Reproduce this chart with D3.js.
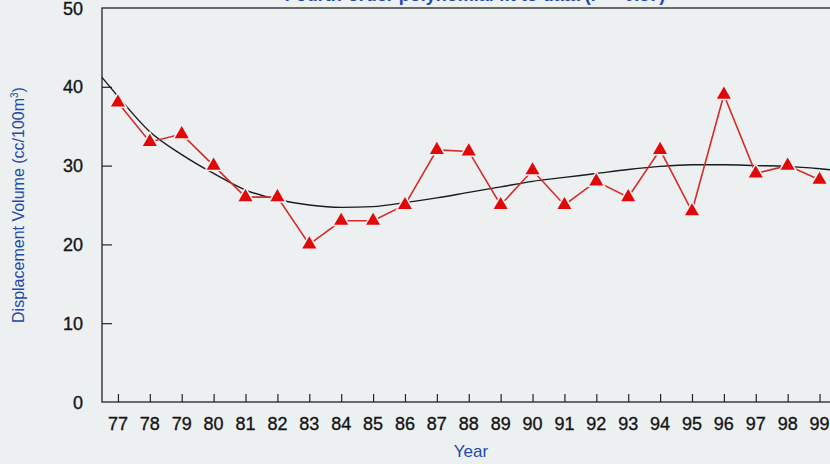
<!DOCTYPE html>
<html>
<head>
<meta charset="utf-8">
<script src="https://cdn.jsdelivr.net/npm/d3@7"></script>
<style>
  body { margin: 0; background: #edf0f1; }
  svg { display: block; }
</style>
</head>
<body>
<div id="chart"></div>
<script>
// observed displacement volume by year
var years = [ 77, 78, 79, 80, 81, 82, 83, 84, 85, 86, 87, 88, 89, 90, 91, 92, 93, 94, 95, 96, 97, 98, 99 ];
var volumes = [ 38, 33, 34, 30, 26, 26, 20, 23, 23, 25, 32, 31.8, 25, 29.4, 25, 28, 26, 32, 24.2, 39, 29, 30, 28.2 ];

// fourth-order fit
var fitYears = [ 76.5, 77, 78, 79, 80, 81, 82, 83, 84, 85, 86, 87, 88, 89, 90, 91, 92, 93, 94, 95, 96, 97, 98, 99, 99.5 ];
var fitValues = [ 41.2, 38.8, 34.3, 31.4, 29.0, 26.9, 25.7, 25.0, 24.7, 24.8, 25.3, 25.9, 26.6, 27.3, 28.0, 28.5, 29.0, 29.5, 29.9, 30.1, 30.1, 30.0, 29.9, 29.6, 29.4 ];

var yTicks = [ 0, 10, 20, 30, 40, 50 ];

var width = 830, height = 464;
var blue = "#2149a6";
var font = "Liberation Sans, Arial, sans-serif";

var svg = d3.select( "#chart" ).append( "svg" )
	.attr( "width", width )
	.attr( "height", height );

svg.append( "rect" )
	.attr( "width", width ).attr( "height", height )
	.attr( "fill", "#edf0f1" );

var xScale = d3.scaleLinear().domain( [ 76.5, 99.5 ] ).range( [ 102, 835.5 ] );
var yScale = d3.scaleLinear().domain( [ 0, 50 ] ).range( [ 402, 8 ] );

// frame
svg.append( "rect" )
	.attr( "x", xScale( 76.5 ) )
	.attr( "y", yScale( 50 ) )
	.attr( "width", xScale( 99.5 ) - xScale( 76.5 ) )
	.attr( "height", yScale( 0 ) - yScale( 50 ) )
	.attr( "fill", "none" )
	.attr( "stroke", "#222" )
	.attr( "stroke-width", 1.3 );

// x axis, ticks pointing inward
var xAxis = svg.append( "g" )
	.attr( "transform", `translate(0, ${ yScale( 0 ) })` )
	.call( d3.axisTop( xScale ).tickValues( years ).tickSize( 8 ).tickFormat( "" ) );
xAxis.select( ".domain" ).remove();
xAxis.selectAll( "line" ).attr( "stroke", "#222" ).attr( "stroke-width", 1.2 );

svg.append( "g" ).selectAll( "text" )
	.data( years )
	.enter()
	.append( "text" )
	.attr( "x", d => xScale( d ) )
	.attr( "y", 430 )
	.attr( "text-anchor", "middle" )
	.attr( "fill", "#151515" )
	.attr( "stroke", "#151515" )
	.attr( "stroke-width", 0.35 )
	.style( "font-family", font )
	.style( "font-size", "18px" )
	.text( d => d );

// y axis, ticks pointing inward
var yAxis = svg.append( "g" )
	.attr( "transform", `translate(${ xScale( 76.5 ) }, 0)` )
	.call( d3.axisRight( yScale ).tickValues( yTicks.slice( 1, -1 ) ).tickSize( 10 ).tickFormat( "" ) );
yAxis.select( ".domain" ).remove();
yAxis.selectAll( "line" ).attr( "stroke", "#222" ).attr( "stroke-width", 1.2 );

svg.append( "g" ).selectAll( "text" )
	.data( yTicks )
	.enter()
	.append( "text" )
	.attr( "x", 83 )
	.attr( "y", d => yScale( d ) + 6.5 )
	.attr( "text-anchor", "end" )
	.attr( "fill", "#151515" )
	.attr( "stroke", "#151515" )
	.attr( "stroke-width", 0.35 )
	.style( "font-family", font )
	.style( "font-size", "18px" )
	.text( d => d );

// axis titles
svg.append( "text" )
	.attr( "x", 471 )
	.attr( "y", 457 )
	.attr( "text-anchor", "middle" )
	.attr( "fill", blue )
	.style( "font-family", font )
	.style( "font-size", "17px" )
	.text( "Year" );

svg.append( "text" )
	.attr( "transform", "translate(24, 205) rotate(-90)" )
	.attr( "text-anchor", "middle" )
	.attr( "fill", blue )
	.style( "font-family", font )
	.style( "font-size", "16px" )
	.html( "Displacement Volume (cc/100m<tspan dy='-6' font-size='10px'>3</tspan><tspan dy='6'>)</tspan>" );

// title, cut by the top edge
svg.append( "text" )
	.attr( "x", 475 )
	.attr( "y", 1 )
	.attr( "text-anchor", "middle" )
	.attr( "fill", blue )
	.style( "font-family", font )
	.style( "font-size", "18px" )
	.style( "font-weight", "bold" )
	.html( "Fourth-order polynomial fit to data (r<tspan dy='-6' font-size='11px'>2</tspan><tspan dy='6'> = 0.37)</tspan>" );

// fitted curve
var fit = fitYears.map( ( y, i ) => ( { year: y, value: fitValues[ i ] } ) );
svg.append( "path" )
	.datum( fit )
	.attr( "fill", "none" )
	.attr( "stroke", "#1a1a1a" )
	.attr( "stroke-width", 1.4 )
	.attr( "d", d3.line()
		.x( d => xScale( d.year ) )
		.y( d => yScale( d.value ) )
		.curve( d3.curveMonotoneX ) );

// observed series
var data = years.map( ( y, i ) => ( { year: y, value: volumes[ i ] } ) );
svg.append( "path" )
	.datum( data )
	.attr( "fill", "none" )
	.attr( "stroke", "#d42a2a" )
	.attr( "stroke-width", 1.6 )
	.attr( "d", d3.line()
		.x( d => xScale( d.year ) )
		.y( d => yScale( d.value ) ) );

svg.append( "g" ).selectAll( "path" )
	.data( data )
	.enter()
	.append( "path" )
	.attr( "transform", d => `translate(${ xScale( d.year ) }, ${ yScale( d.value ) })` )
	.attr( "d", d3.symbol().type( d3.symbolTriangle ).size( 85 ) )
	.attr( "fill", "#e00808" )
	.attr( "stroke", "#edf0f1" )
	.attr( "stroke-width", 3 )
	.attr( "paint-order", "stroke" );
</script>
</body>
</html>
